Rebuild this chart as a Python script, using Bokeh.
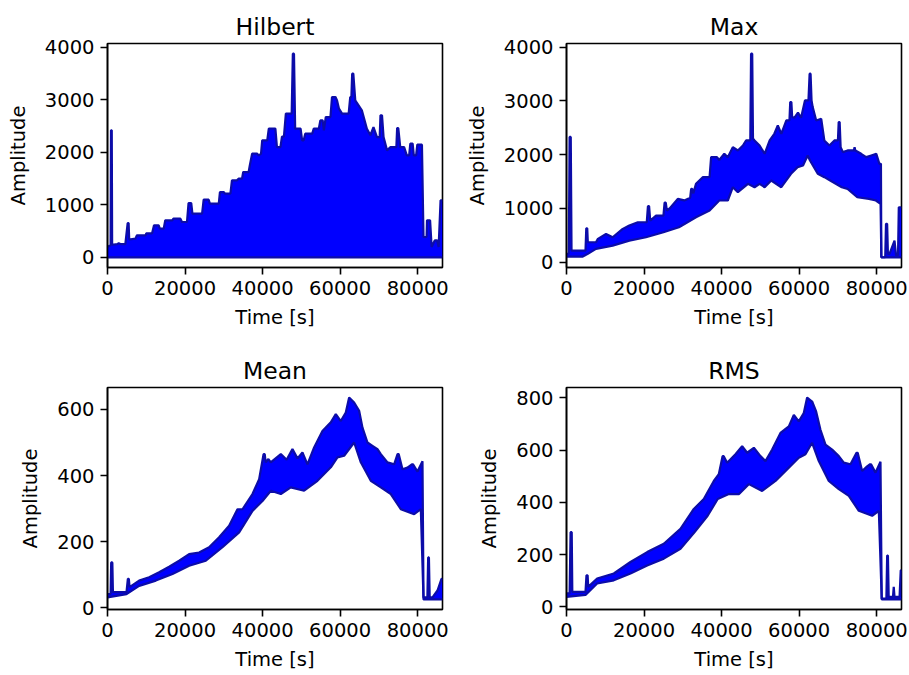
from bokeh.plotting import figure
from bokeh.layouts import column, row
from bokeh.models import Range1d, FixedTicker
from bokeh.embed import file_html
from bokeh.resources import INLINE

# ---------------- data ----------------
x_ticks = [0, 20000, 40000, 60000, 80000]
x_max = 86400

# Hilbert: upper envelope (filled down to zero)
hilbert_up_t = [0, 800, 900, 1100, 1200, 2500, 2900, 3500, 4600, 5200,
                5450, 5600, 7200, 7600, 9800, 10000, 11500, 12000, 13200, 13500,
                14500, 14900, 16700, 17000, 18800, 19200, 20500, 20900, 21600, 21900,
                24400, 24800, 26100, 26400, 28700, 29000, 30000, 30300, 31700, 32100,
                33400, 33800, 34700, 35000, 36400, 36700, 37300, 38600, 39000, 39600,
                39900, 41200, 41600, 43300, 43700, 44600, 45000, 45500, 46000, 47500,
                47800, 48100, 48400, 49800, 50200, 50600, 51000, 52800, 53200, 54500,
                54900, 55500, 55800, 56300, 57500, 57900, 58800, 59200, 59700, 60500,
                62200, 62600, 62900, 63100, 63400, 63900, 65600, 66900, 67800, 68600,
                69500, 70200, 70400, 70800, 71200, 72100, 73000, 74500, 74700, 75000,
                75500, 76500, 77200, 77800, 78100, 78700, 79000, 79600, 79900, 81100,
                81500, 82300, 82400, 83200, 83600, 84400, 85000, 85400, 85900, 86400]
hilbert_up_v = [200, 228, 2420, 2420, 240, 250, 267, 250, 250, 653,
                653, 340, 356, 419, 419, 457, 457, 609, 609, 546,
                546, 705, 705, 736, 736, 673, 673, 1035, 1035, 832,
                832, 1098, 1098, 1022, 1022, 1244, 1244, 1212, 1212, 1467,
                1467, 1498, 1498, 1625, 1625, 1752, 1975, 1975, 1940, 1975,
                2229, 2229, 2451, 2451, 2101, 2101, 2300, 2300, 2737, 2737,
                3880, 3880, 2451, 2451, 2229, 2229, 2356, 2356, 2451, 2451,
                2610, 2610, 2420, 2673, 2673, 3054, 3054, 2990, 2832, 2737,
                2737, 3054, 3054, 3499, 3499, 2990, 2800, 2451, 2326, 2480,
                2292, 2292, 2705, 2705, 2292, 2038, 2101, 2101, 2464, 2464,
                2101, 2101, 1943, 1943, 2165, 2165, 1943, 1943, 2146, 2146,
                387, 387, 705, 705, 196, 323, 323, 196, 1086, 1086]
hilbert_lo_t = [0, 86400]
hilbert_lo_v = [0, 0]
hilbert_yticks = [0, 1000, 2000, 3000, 4000]

# Max
max_up_t = [0, 600, 800, 1100, 1300, 4900, 5100, 5350, 5500, 7600,
            8100, 10200, 11900, 14500, 16200, 18400, 20700, 21000, 21300, 21600,
            23100, 25000, 25300, 25600, 25900, 26600, 28700, 30400, 31900, 32150,
            32400, 32700, 33400, 35200, 36900, 37300, 38800, 39400, 40700, 41600,
            42900, 44200, 45500, 46300, 47400, 47600, 47900, 48100, 48500, 49800,
            51100, 52400, 53600, 54500, 55400, 56700, 57500, 57700, 58000, 58200,
            58800, 59700, 60500, 61500, 62400, 62700, 62950, 63200, 63500, 64400,
            65700, 66500, 67800, 69100, 70000, 70200, 70450, 70700, 71300, 72500,
            74100, 74300, 74500, 76000, 77300, 78600, 79900, 80700, 81100, 81200,
            82200, 82400, 82700, 82900, 83300, 84600, 85000, 85500, 85700, 86400]
max_up_v = [156, 160, 2330, 2330, 218, 218, 630, 630, 372, 372,
            434, 527, 465, 620, 682, 744, 744, 1042, 1042, 775,
            868, 868, 1110, 1110, 960, 1000, 1179, 1150, 1200, 1365,
            1365, 1280, 1458, 1582, 1582, 1953, 1953, 1900, 2016, 1950,
            2140, 2078, 2171, 2264, 2264, 3877, 3877, 2300, 2264, 2171,
            2016, 2264, 2388, 2543, 2388, 2636, 2636, 2977, 2977, 2700,
            2687, 2780, 2687, 3008, 3008, 3505, 3505, 3008, 2884, 2636,
            2667, 2264, 2171, 2264, 2264, 2605, 2605, 2140, 2047, 2078,
            2078, 2140, 2078, 2016, 1954, 1985, 2016, 1830, 1830, 93,
            93, 715, 715, 156, 156, 403, 130, 130, 1023, 1023]
max_lo_t = [0, 4200, 5500, 7600, 11900, 16200, 20500, 25000, 29000, 33400,
            36900, 39400, 41600, 42900, 44200, 46800, 48500, 49800, 51100, 52800,
            55400, 57900, 59600, 61000, 62200, 62800, 64800, 66500, 68000, 71000,
            72500, 75000, 78000, 79800, 81000, 81200, 86400]
max_lo_v = [106, 106, 156, 248, 310, 403, 465, 558, 651, 837,
            961, 1148, 1148, 1395, 1302, 1458, 1395, 1458, 1395, 1520,
            1395, 1644, 1768, 1798, 1985, 1892, 1644, 1582, 1520, 1395,
            1364, 1209, 1178, 1148, 1085, 92, 92]
max_yticks = [0, 1000, 2000, 3000, 4000]

# Mean
mean_up_t = [0, 800, 950, 1250, 1400, 4900, 5250, 5500, 5700, 8160,
             10740, 13320, 15900, 18480, 21050, 23630, 26210, 28790, 31370, 33520,
             34810, 37390, 39110, 40250, 40550, 40800, 41500, 42100, 44700, 46200,
             47700, 49000, 50280, 51570, 53290, 55440, 57590, 58880, 60170, 61460,
             62320, 63610, 64900, 65760, 67050, 68340, 69630, 70490, 72210, 73930,
             74800, 75100, 76080, 77370, 78500, 78800, 79950, 81240, 81500, 82500,
             82700, 82900, 83100, 83820, 85110, 86140, 86400]
mean_up_v = [41, 41, 137, 137, 47, 47, 87, 87, 62, 82,
             92, 107, 124, 142, 162, 167, 183, 213, 248, 298,
             298, 344, 389, 465, 465, 440, 450, 440, 465, 448,
             480, 452, 470, 434, 485, 535, 561, 586, 565, 591,
             636, 621, 596, 545, 500, 490, 480, 465, 440, 434,
             465, 465, 419, 424, 434, 434, 412, 443, 31, 31,
             152, 152, 31, 31, 52, 87, 87]
mean_lo_t = [0, 4900, 8160, 12460, 16760, 21050, 25350, 29650, 33950, 37390,
             39970, 42120, 44700, 47270, 50710, 54150, 57590, 59310, 61030, 63610,
             65330, 67910, 70490, 73070, 75650, 79090, 80810, 81500, 86400]
mean_lo_v = [31, 41, 66, 82, 102, 127, 142, 183, 228, 293,
             323, 354, 344, 364, 354, 384, 425, 455, 460, 500,
             440, 384, 364, 344, 298, 283, 298, 25, 25]
mean_yticks = [0, 200, 400, 600]

# RMS
rms_up_t = [0, 800, 1050, 1350, 1500, 4900, 5150, 5450, 5600, 7900,
            12200, 16500, 20800, 25090, 29390, 32830, 35410, 37990, 39280, 40250,
            40550, 41430, 43580, 45300, 46590, 48310, 50030, 51320, 53040, 55190,
            57340, 58630, 59910, 61200, 62060, 63350, 64380, 65500, 66790, 68510,
            70230, 71520, 73240, 74800, 75100, 76250, 77540, 78300, 78550, 79690,
            80980, 81300, 82500, 82700, 82900, 83100, 84200, 84400, 84600, 85900,
            86200, 86400]
rms_up_v = [52, 52, 286, 286, 58, 58, 121, 121, 77, 109,
            128, 172, 210, 242, 299, 375, 413, 482, 508, 577,
            577, 552, 584, 615, 590, 609, 577, 558, 602, 666,
            691, 735, 710, 742, 801, 786, 748, 678, 621, 602,
            577, 552, 546, 590, 590, 520, 538, 546, 546, 514,
            556, 32, 32, 197, 197, 39, 39, 77, 39, 39,
            140, 140]
rms_lo_t = [0, 4900, 7900, 12200, 16500, 20800, 25090, 29390, 33000, 36400,
            39000, 41860, 44500, 47020, 50460, 53900, 57340, 59910, 61630, 63350,
            65070, 67650, 70230, 72810, 75390, 78830, 80550, 81300, 86400]
rms_lo_v = [39, 46, 90, 102, 128, 159, 185, 223, 286, 349,
            413, 432, 432, 470, 444, 482, 533, 571, 584, 628,
            558, 482, 451, 425, 368, 349, 368, 29, 29]
rms_yticks = [0, 200, 400, 600, 800]

# ---------------- styling ----------------
FONT = "DejaVu Sans"
FILL = "#0000ff"
EDGE = "#0c0ca8"


def panel(title, up_t, up_v, lo_t, lo_v, yticks, width, height, left, right, top, bottom):
    assert len(up_t) == len(up_v) and len(lo_t) == len(lo_v)
    ymin, ymax = min(lo_v + up_v), max(up_v)
    pad = 0.05 * (ymax - ymin)
    p = figure(width=width, height=height, output_backend="svg",
               toolbar_location=None, title=title,
               x_range=Range1d(0, x_max),
               y_range=Range1d(ymin - pad, ymax + pad),
               min_border_left=left, min_border_right=right,
               min_border_top=top, min_border_bottom=bottom)
    p.patch(x=up_t + lo_t[::-1], y=up_v + lo_v[::-1],
            fill_color=FILL, fill_alpha=1.0, line_color=None)
    p.line(up_t, up_v, line_color=EDGE, line_width=2.2)
    p.line(lo_t, lo_v, line_color=EDGE, line_width=2.2)

    p.title.text_font = FONT
    p.title.text_font_size = "23.5px"
    p.title.text_font_style = "normal"
    p.title.text_color = "black"
    p.title.align = "center"
    p.title.standoff = 6

    p.xgrid.visible = False
    p.ygrid.visible = False
    p.outline_line_color = "black"
    p.outline_line_width = 1.6
    p.outline_line_alpha = 1.0
    p.background_fill_color = "white"
    p.border_fill_color = "white"

    p.xaxis.ticker = FixedTicker(ticks=x_ticks)
    p.yaxis.ticker = FixedTicker(ticks=yticks)
    p.xaxis.axis_label = "Time [s]"
    p.yaxis.axis_label = "Amplitude"
    for ax in (p.xaxis, p.yaxis):
        ax.axis_line_color = "black"
        ax.axis_line_width = 1.6
        ax.major_tick_line_color = "black"
        ax.major_tick_line_width = 1.6
        ax.major_tick_out = 7
        ax.major_tick_in = 0
        ax.minor_tick_line_color = None
        ax.major_label_text_font = FONT
        ax.major_label_text_font_size = "19.5px"
        ax.major_label_text_color = "black"
        ax.major_label_standoff = 6
        ax.axis_label_text_font = FONT
        ax.axis_label_text_font_size = "19.5px"
        ax.axis_label_text_font_style = "normal"
        ax.axis_label_text_color = "black"
    p.xaxis.axis_label_standoff = 8
    p.yaxis.axis_label_standoff = 12
    return p


p1 = panel("Hilbert", hilbert_up_t, hilbert_up_v, hilbert_lo_t, hilbert_lo_v,
           hilbert_yticks, 454, 340, 107, 12, 43, 73)
p2 = panel("Max", max_up_t, max_up_v, max_lo_t, max_lo_v,
           max_yticks, 455, 340, 112, 8, 43, 73)
p3 = panel("Mean", mean_up_t, mean_up_v, mean_lo_t, mean_lo_v,
           mean_yticks, 454, 335, 107, 12, 47, 66)
p4 = panel("RMS", rms_up_t, rms_up_v, rms_lo_t, rms_lo_v,
           rms_yticks, 455, 335, 112, 8, 47, 66)

layout = column(row(p1, p2), row(p3, p4))
open("out.html", "w").write(file_html(layout, INLINE))
